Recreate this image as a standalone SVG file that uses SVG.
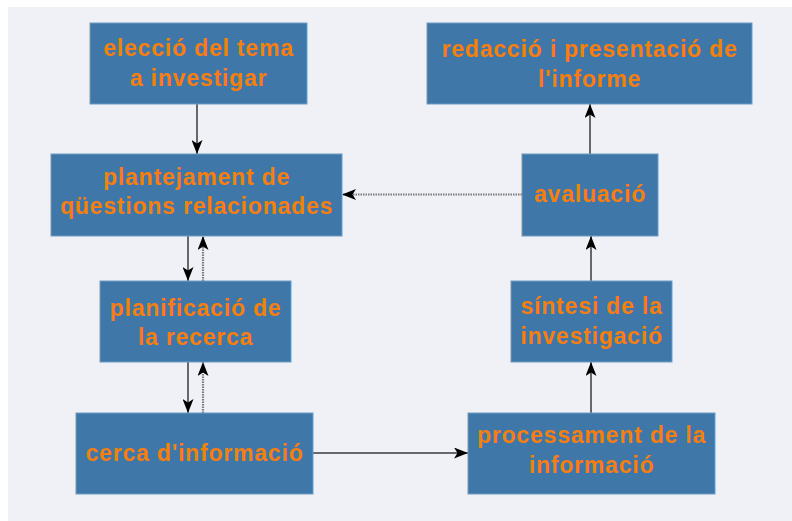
<svg xmlns="http://www.w3.org/2000/svg" width="792" height="521" viewBox="0 0 792 521">
<style>
.box{fill:#3f78a8;stroke:#6e9cc4;stroke-width:1}
.t{font-family:"Liberation Sans",Arial,sans-serif;font-weight:bold;font-size:23px;letter-spacing:0.8px;fill:#f47e12;text-anchor:middle}
.c{fill:none;stroke:#3a3a3a;stroke-width:1.5}
.d{fill:none;stroke:#7a7a7a;stroke-width:2.2;stroke-dasharray:1.5 1}
</style>
<defs>
<marker id="ah" viewBox="0 0 14 11" refX="14" refY="5.5" markerWidth="14" markerHeight="11" markerUnits="userSpaceOnUse" orient="auto">
<path d="M0,0 L14,5.5 L0,11 L3.5,5.5 Z" fill="#000"/>
</marker>
</defs>
<rect x="0" y="0" width="792" height="521" fill="#ffffff"/>
<rect x="8" y="7" width="784" height="514" fill="#f0f1f7"/>
<g id="connectors">
<line class="c" x1="197" y1="104" x2="197" y2="154" marker-end="url(#ah)"/>
<line class="c" x1="188" y1="236" x2="188" y2="281" marker-end="url(#ah)"/>
<line class="d" x1="203" y1="281" x2="203" y2="236" marker-end="url(#ah)"/>
<line class="c" x1="188" y1="362" x2="188" y2="413" marker-end="url(#ah)"/>
<line class="d" x1="203" y1="413" x2="203" y2="362" marker-end="url(#ah)"/>
<line class="c" x1="313" y1="453" x2="468" y2="453" marker-end="url(#ah)"/>
<line class="c" x1="591" y1="413" x2="591" y2="362" marker-end="url(#ah)"/>
<line class="c" x1="591" y1="281" x2="591" y2="236" marker-end="url(#ah)"/>
<line class="c" x1="590" y1="154" x2="590" y2="104" marker-end="url(#ah)"/>
<line class="d" x1="522" y1="194.5" x2="342" y2="194.5" marker-end="url(#ah)"/>
</g>
<g id="eleccio">
<rect class="box" x="90" y="23" width="217" height="81"/>
<text class="t" x="198.5" y="56">elecció del tema</text>
<text class="t" x="198.5" y="86">a investigar</text>
</g>
<g id="plantejament">
<rect class="box" x="51" y="154" width="291" height="82"/>
<text class="t" x="196.5" y="185">plantejament de</text>
<text class="t" x="196.5" y="214">qüestions relacionades</text>
</g>
<g id="planificacio">
<rect class="box" x="100" y="281" width="191" height="81"/>
<text class="t" x="195.5" y="316">planificació de</text>
<text class="t" x="195.5" y="345">la recerca</text>
</g>
<g id="cerca">
<rect class="box" x="76" y="413" width="237" height="81"/>
<text class="t" x="194.5" y="461">cerca d'informació</text>
</g>
<g id="redaccio">
<rect class="box" x="427" y="23" width="325" height="81"/>
<text class="t" x="589.5" y="57">redacció i presentació de</text>
<text class="t" x="589.5" y="87">l'informe</text>
</g>
<g id="avaluacio">
<rect class="box" x="522" y="154" width="136" height="82"/>
<text class="t" x="590" y="202">avaluació</text>
</g>
<g id="sintesi">
<rect class="box" x="511" y="281" width="161" height="81"/>
<text class="t" x="591.5" y="314">síntesi de la</text>
<text class="t" x="591.5" y="344">investigació</text>
</g>
<g id="processament">
<rect class="box" x="468" y="413" width="247" height="81"/>
<text class="t" x="591.5" y="443">processament de la</text>
<text class="t" x="591.5" y="473">informació</text>
</g>
</svg>
